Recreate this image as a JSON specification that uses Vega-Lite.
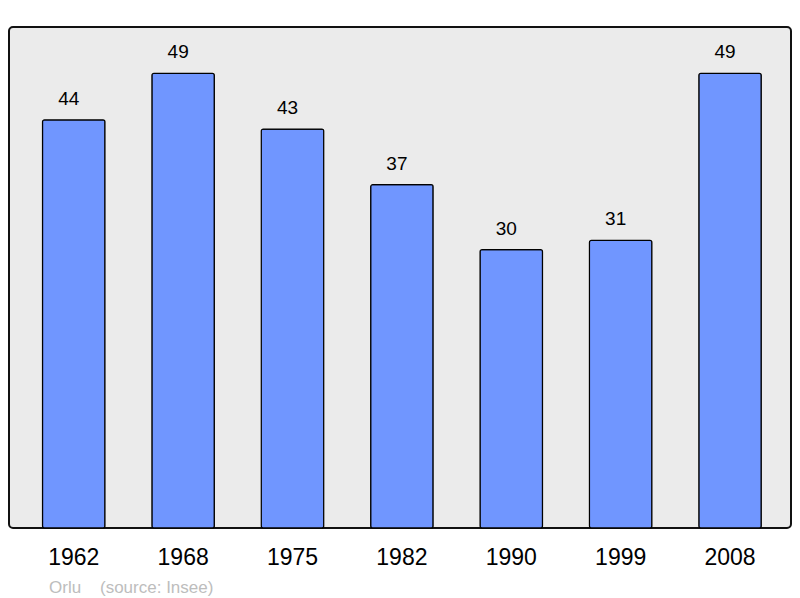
{
  "$schema": "https://vega.github.io/schema/vega-lite/v6.json",
  "width": 782,
  "height": 501,
  "autosize": {"type": "none"},
  "padding": {"left": 9, "top": 27, "right": 9, "bottom": 70},
  "background": "white",
  "config": {
    "font": "Liberation Sans",
    "view": {"fill": "#ebebeb", "stroke": "#111111", "strokeWidth": 2, "cornerRadius": 4}
  },
  "title": {
    "text": "Orlu\u00a0\u00a0\u00a0\u00a0(source: Insee)",
    "orient": "bottom",
    "anchor": "start",
    "dx": 40,
    "offset": 11,
    "fontSize": 17,
    "fontWeight": "normal",
    "color": "#bdbdbd",
    "font": "Liberation Sans"
  },
  "data": {
    "values": [
      {"year": "1962", "population": 44},
      {"year": "1968", "population": 49},
      {"year": "1975", "population": 43},
      {"year": "1982", "population": 37},
      {"year": "1990", "population": 30},
      {"year": "1999", "population": 31},
      {"year": "2008", "population": 49}
    ]
  },
  "encoding": {
    "x": {
      "field": "year",
      "type": "ordinal",
      "sort": null,
      "scale": {"paddingInner": 0.429, "paddingOuter": 0.289, "align": 0.53},
      "axis": {
        "title": null,
        "labelAngle": 0,
        "ticks": false,
        "domain": false,
        "labelFontSize": 23,
        "labelColor": "#000000",
        "labelPadding": 18,
        "labelFont": "Liberation Sans"
      }
    },
    "y": {
      "field": "population",
      "type": "quantitative",
      "scale": {"domain": [0, 54], "nice": false},
      "axis": null
    }
  },
  "layer": [
    {
      "mark": {"type": "bar", "fill": "#7096ff", "stroke": "#000000", "strokeWidth": 1.2, "cornerRadius": 2}
    },
    {
      "mark": {"type": "text", "baseline": "alphabetic", "dx": -5, "dy": -15, "fontSize": 19, "color": "#000000", "font": "Liberation Sans"},
      "encoding": {"text": {"field": "population", "type": "quantitative"}}
    }
  ]
}
